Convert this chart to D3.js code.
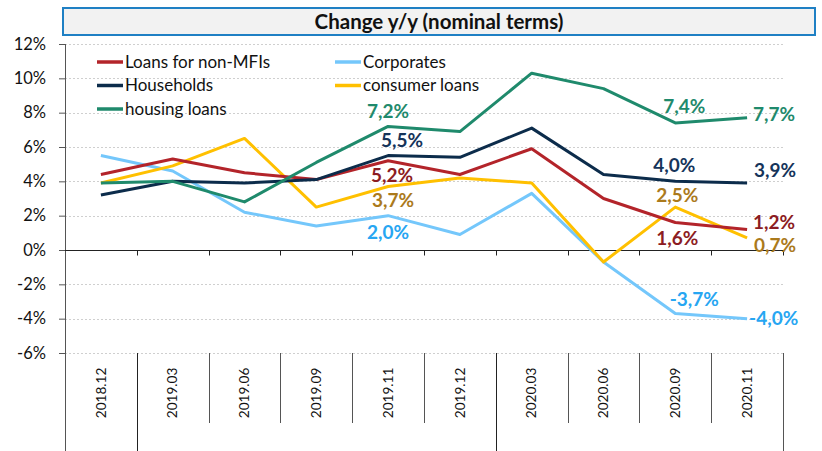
<!DOCTYPE html>
<html>
<head>
<meta charset="utf-8">
<script src="https://cdn.jsdelivr.net/npm/d3@7"></script>
<style>
	body { margin: 0; background: #fff; }
	text { font-family: Lato, 'Open Sans', sans-serif; }
</style>
</head>
<body>
<div id="chart"></div>
<script>
// chart data
var categories = ['2018.12', '2019.03', '2019.06', '2019.09', '2019.11', '2019.12', '2020.03', '2020.06', '2020.09', '2020.11'];
var loansNonMFI = [4.4, 5.3, 4.5, 4.1, 5.2, 4.4, 5.9, 3.0, 1.6, 1.2];
var corporates = [5.5, 4.6, 2.2, 1.4, 2.0, 0.9, 3.3, -0.7, -3.7, -4.0];
var households = [3.2, 4.0, 3.9, 4.1, 5.5, 5.4, 7.1, 4.4, 4.0, 3.9];
var consumerLoans = [3.9, 4.9, 6.5, 2.5, 3.7, 4.2, 3.9, -0.7, 2.5, 0.7];
var housingLoans = [3.9, 4.0, 2.8, 5.1, 7.2, 6.9, 10.3, 9.4, 7.4, 7.7];
var yTicks = [-6, -4, -2, 0, 2, 4, 6, 8, 10, 12];
var titleText = 'Change y/y (nominal terms)';

var series = [
	{ name: 'Loans for non-MFIs', values: loansNonMFI, color: '#b3242a', labelColor: '#8c1c22' },
	{ name: 'Corporates', values: corporates, color: '#74c7fb', labelColor: '#27a6f2' },
	{ name: 'Households', values: households, color: '#0c2c4b', labelColor: '#15345a' },
	{ name: 'consumer loans', values: consumerLoans, color: '#ffc000', labelColor: '#ab7a1c' },
	{ name: 'housing loans', values: housingLoans, color: '#1f8a6c', labelColor: '#1f8a6c' }
];

// which points get a value label: series index, category index, offset and anchor
var pointLabels = [
	{ s: 4, i: 4, dx: 0, dy: -15, anchor: 'middle' },
	{ s: 2, i: 4, dx: 14, dy: -15, anchor: 'middle' },
	{ s: 0, i: 4, dx: 4, dy: 14, anchor: 'middle' },
	{ s: 3, i: 4, dx: 5, dy: 14, anchor: 'middle' },
	{ s: 1, i: 4, dx: 0, dy: 16, anchor: 'middle' },
	{ s: 4, i: 8, dx: 9, dy: -17, anchor: 'middle' },
	{ s: 2, i: 8, dx: -1, dy: -16, anchor: 'middle' },
	{ s: 3, i: 8, dx: 2, dy: -12, anchor: 'middle' },
	{ s: 0, i: 8, dx: 2, dy: 16, anchor: 'middle' },
	{ s: 1, i: 8, dx: 19, dy: -14, anchor: 'middle' },
	{ s: 4, i: 9, dx: 6, dy: -4, anchor: 'start' },
	{ s: 2, i: 9, dx: 7, dy: -13, anchor: 'start' },
	{ s: 0, i: 9, dx: 6, dy: -7, anchor: 'start' },
	{ s: 3, i: 9, dx: 7, dy: 7, anchor: 'start' },
	{ s: 1, i: 9, dx: 2, dy: -1, anchor: 'start' }
];

var width = 822,
	height = 451,
	plot = { left: 65, right: 783, top: 44, bottom: 353 };

var svg = d3.select('#chart').append('svg')
	.attr('width', width)
	.attr('height', height);

var xScale = d3.scaleBand()
	.domain(categories)
	.range([plot.left, plot.right])
	.padding(0);

var yScale = d3.scaleLinear()
	.domain([-6, 12])
	.range([plot.bottom, plot.top]);

var cx = function(i) { return xScale(categories[i]) + xScale.bandwidth() / 2; };
var fmt = function(v) { return d3.format('.1f')(v).replace('\u2212', '-').replace('.', ',') + '%'; };

// title box
svg.append('rect')
	.attr('x', 63)
	.attr('y', 8)
	.attr('width', 752)
	.attr('height', 27)
	.attr('fill', '#f2f2f2')
	.attr('stroke', '#1f80c4')
	.attr('stroke-width', 2);

svg.append('text')
	.attr('x', 439)
	.attr('y', 22)
	.attr('dy', '0.35em')
	.attr('text-anchor', 'middle')
	.attr('font-size', 20.5)
	.attr('font-weight', 'bold')
	.attr('fill', '#111')
	.text(titleText);

// gridlines
svg.append('g').selectAll('line')
	.data(yTicks.filter(function(d) { return d !== 0; }))
	.enter().append('line')
	.attr('x1', plot.left)
	.attr('x2', plot.right)
	.attr('y1', function(d) { return Math.round(yScale(d)) + 0.5; })
	.attr('y2', function(d) { return Math.round(yScale(d)) + 0.5; })
	.attr('stroke', '#cfcfcf')
	.attr('stroke-dasharray', '2,2');

// y axis
var yAxis = d3.axisLeft(yScale)
	.tickValues(yTicks)
	.tickSize(6)
	.tickSizeOuter(0)
	.tickFormat(function(d) { return d + '%'; });

var yAxisG = svg.append('g')
	.attr('transform', 'translate(' + plot.left + ',0)')
	.call(yAxis);
yAxisG.select('.domain').remove();
yAxisG.selectAll('line').attr('stroke', '#555');
yAxisG.selectAll('text')
	.attr('x', -19)
	.attr('font-family', 'Lato, sans-serif')
	.attr('font-size', 16.5)
	.attr('fill', '#111');

// y axis line runs all the way down through the label area
svg.append('line')
	.attr('x1', plot.left + 0.5).attr('x2', plot.left + 0.5)
	.attr('y1', plot.top).attr('y2', height)
	.attr('stroke', '#555');

// zero line with category ticks
var y0 = Math.round(yScale(0)) + 0.5;
svg.append('line')
	.attr('x1', plot.left).attr('x2', plot.right)
	.attr('y1', y0).attr('y2', y0)
	.attr('stroke', '#222')
	.attr('stroke-width', 1.2);

var bounds = d3.range(1, categories.length + 1);
svg.append('g').selectAll('line')
	.data(bounds)
	.enter().append('line')
	.attr('x1', function(d) { return Math.round(plot.left + d * xScale.step()) + 0.5; })
	.attr('x2', function(d) { return Math.round(plot.left + d * xScale.step()) + 0.5; })
	.attr('y1', y0)
	.attr('y2', y0 + 5)
	.attr('stroke', '#222');

// category label area separators (year groups run longer)
var longBounds = [1, 6, 10];
svg.append('g').selectAll('line')
	.data(bounds)
	.enter().append('line')
	.attr('x1', function(d) { return Math.round(plot.left + d * xScale.step()) + 0.5; })
	.attr('x2', function(d) { return Math.round(plot.left + d * xScale.step()) + 0.5; })
	.attr('y1', plot.bottom)
	.attr('y2', function(d) { return longBounds.indexOf(d) >= 0 ? height : 423; })
	.attr('stroke', function(d) { return longBounds.indexOf(d) >= 0 && d !== 10 ? '#222' : '#555'; });

svg.append('g').selectAll('text')
	.data(categories)
	.enter().append('text')
	.attr('transform', function(d) { return 'translate(' + (xScale(d) + xScale.bandwidth() / 2) + ',393) rotate(-90)'; })
	.attr('text-anchor', 'middle')
	.attr('dy', '0.35em')
	.attr('font-family', "'DejaVu Sans', sans-serif")
	.attr('font-size', 13.6)
	.attr('fill', '#111')
	.text(function(d) { return d; });

// series lines
var line = d3.line()
	.x(function(d, i) { return cx(i); })
	.y(function(d) { return yScale(d); });

svg.append('g').selectAll('path')
	.data([series[4], series[2], series[0], series[3], series[1]].reverse())
	.enter().append('path')
	.attr('d', function(d) { return line(d.values); })
	.attr('fill', 'none')
	.attr('stroke', function(d) { return d.color; })
	.attr('stroke-width', 3)
	.attr('stroke-linejoin', 'round');

// value labels
svg.append('g').selectAll('text')
	.data(pointLabels)
	.enter().append('text')
	.attr('x', function(d) { return cx(d.i) + d.dx; })
	.attr('y', function(d) { return yScale(series[d.s].values[d.i]) + d.dy; })
	.attr('dy', '0.36em')
	.attr('text-anchor', function(d) { return d.anchor; })
	.attr('font-size', 19)
	.attr('font-weight', 'bold')
	.attr('fill', function(d) { return series[d.s].labelColor; })
	.text(function(d) { return fmt(series[d.s].values[d.i]); });

// legend, two columns
var legendPos = [[97, 62], [335, 62], [97, 85.5], [335, 85.5], [97, 109]];
var legend = svg.append('g').selectAll('g')
	.data(series)
	.enter().append('g')
	.attr('transform', function(d, i) { return 'translate(' + legendPos[i][0] + ',' + legendPos[i][1] + ')'; });

legend.append('line')
	.attr('x1', 0).attr('x2', 26)
	.attr('y1', 0).attr('y2', 0)
	.attr('stroke', function(d) { return d.color; })
	.attr('stroke-width', 3.5);

legend.append('text')
	.attr('x', 28)
	.attr('dy', '0.35em')
	.attr('font-size', 17)
	.attr('fill', '#111')
	.text(function(d) { return d.name; });
</script>
</body>
</html>
